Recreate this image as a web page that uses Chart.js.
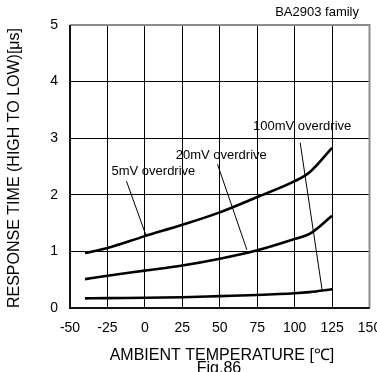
<!DOCTYPE html>
<html>
<head>
<meta charset="utf-8">
<script src="https://cdn.jsdelivr.net/npm/chart.js@4"></script>
<style>
  body { margin: 0; background: #fff; }
  #wrap { width: 377px; height: 372px; }
</style>
</head>
<body>
<div id="wrap"><canvas id="chartRespuesta" width="377" height="372"></canvas></div>
<script>
// datos
const temperaturas = [-40, -25, 0, 25, 50, 75, 100, 110, 125];
const tiempo5mV = [0.97, 1.06, 1.27, 1.47, 1.69, 1.96, 2.24, 2.40, 2.83];
const tiempo20mV = [0.51, 0.57, 0.66, 0.75, 0.87, 1.02, 1.22, 1.31, 1.63];
const tiempo100mV = [0.17, 0.175, 0.18, 0.19, 0.21, 0.23, 0.26, 0.28, 0.33];

const ticksX = [-50, -25, 0, 25, 50, 75, 100, 125, 150];
const ticksY = [0, 1, 2, 3, 4, 5];

// lineas guia de las etiquetas [x1, y1, x2, y2]
const guia5mV = [-12.3, 2.24, 0.8, 1.28];
const guia20mV = [48.5, 2.54, 68.1, 1.03];
const guia100mV = [103.7, 2.92, 118.3, 0.33];

const etiquetas = [
  { texto: "5mV overdrive", x: 5.7, y: 2.41 },
  { texto: "20mV overdrive", x: 51, y: 2.70 },
  { texto: "100mV overdrive", x: 105, y: 3.21 }
];

const FUENTE = "'Liberation Sans', Arial, sans-serif";

function puntos(valores) {
  return temperaturas.map((t, i) => ({ x: t, y: valores[i] }));
}

function guia(seg) {
  return [{ x: seg[0], y: seg[1] }, { x: seg[2], y: seg[3] }];
}

function curva(valores) {
  return {
    data: puntos(valores),
    borderColor: "#000",
    borderWidth: 2.6,
    pointRadius: 0,
    cubicInterpolationMode: "monotone",
    fill: false
  };
}

function lineaGuia(seg) {
  return {
    data: guia(seg),
    borderColor: "#000",
    borderWidth: 1,
    pointRadius: 0,
    tension: 0,
    fill: false
  };
}

const pluginTextos = {
  id: "textos",
  afterDraw(chart) {
    const ctx = chart.ctx;
    const area = chart.chartArea;
    const sx = chart.scales.x;
    const sy = chart.scales.y;

    // marco
    ctx.save();
    ctx.lineWidth = 2;
    ctx.strokeStyle = "#8c8c8c";
    ctx.beginPath();
    ctx.moveTo(area.left, area.top);
    ctx.lineTo(area.right, area.top);
    ctx.lineTo(area.right, area.bottom);
    ctx.stroke();
    ctx.strokeStyle = "#111";
    ctx.beginPath();
    ctx.moveTo(area.left, area.top);
    ctx.lineTo(area.left, area.bottom);
    ctx.lineTo(area.right, area.bottom);
    ctx.stroke();

    ctx.fillStyle = "#000";
    ctx.textAlign = "center";
    ctx.textBaseline = "middle";
    ctx.font = "13px " + FUENTE;
    etiquetas.forEach(e => {
      ctx.fillText(e.texto, sx.getPixelForValue(e.x), sy.getPixelForValue(e.y));
    });

    ctx.textAlign = "right";
    ctx.fillText("BA2903 family", 359, 12);

    ctx.textAlign = "center";
    ctx.textBaseline = "alphabetic";
    ctx.font = "16px " + FUENTE;
    ctx.fillText("AMBIENT TEMPERATURE [℃]", 222, 360);
    ctx.fillText("Fig.86", 219, 373);

    ctx.translate(15, 168);
    ctx.rotate(-Math.PI / 2);
    ctx.textBaseline = "middle";
    ctx.fillText("RESPONSE TIME (HIGH TO LOW)[μs]", 0, 0);
    ctx.restore();
  }
};

new Chart(document.getElementById("chartRespuesta"), {
  type: "line",
  data: {
    datasets: [
      curva(tiempo5mV),
      curva(tiempo20mV),
      curva(tiempo100mV),
      lineaGuia(guia5mV),
      lineaGuia(guia20mV),
      lineaGuia(guia100mV)
    ]
  },
  options: {
    responsive: false,
    animation: false,
    events: [],
    layout: { padding: { top: 25, right: 7.5, left: 0, bottom: 0 } },
    plugins: {
      legend: { display: false },
      tooltip: { enabled: false }
    },
    scales: {
      x: {
        type: "linear",
        min: ticksX[0],
        max: ticksX[ticksX.length - 1],
        afterBuildTicks: scale => { scale.ticks = ticksX.map(v => ({ value: v })); },
        afterFit: scale => {
          scale.height = 64;
          scale.paddingLeft = 0;
          scale.paddingRight = 0;
        },
        grid: { color: "#000", lineWidth: 1, drawTicks: false },
        border: { display: false },
        ticks: {
          color: "#000",
          padding: 12,
          maxRotation: 0,
          autoSkip: false,
          font: { family: FUENTE, size: 14 }
        }
      },
      y: {
        min: ticksY[0],
        max: ticksY[ticksY.length - 1],
        afterBuildTicks: scale => { scale.ticks = ticksY.map(v => ({ value: v })); },
        afterFit: scale => {
          scale.width = 70;
          scale.paddingTop = 0;
          scale.paddingBottom = 0;
        },
        grid: { color: "#000", lineWidth: 1, drawTicks: false },
        border: { display: false },
        ticks: {
          color: "#000",
          padding: 12,
          font: { family: FUENTE, size: 14 }
        }
      }
    }
  },
  plugins: [pluginTextos]
});
</script>
</body>
</html>
